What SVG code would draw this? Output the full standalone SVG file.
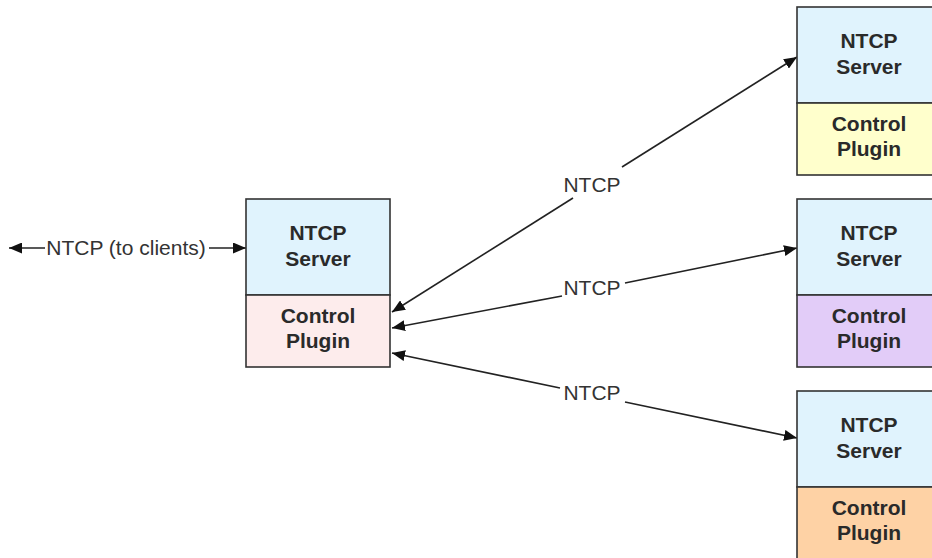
<svg xmlns="http://www.w3.org/2000/svg" width="932" height="558" viewBox="0 0 932 558">
<style>
.box{stroke:#333;stroke-width:1.6}
.srv{fill:#e0f3fd}
.t{font-family:"Liberation Sans",Arial,sans-serif;font-size:21px;font-weight:bold;fill:#2a2a2a;text-anchor:middle}
.lbl{font-family:"Liberation Sans",Arial,sans-serif;font-size:21px;fill:#333;text-anchor:middle}
.c{stroke:#222;stroke-width:1.6;fill:none}
</style>
<defs>
<marker id="ah" viewBox="0 0 13 11" refX="13" refY="5.5" markerWidth="13" markerHeight="11" markerUnits="userSpaceOnUse" orient="auto-start-reverse">
<path d="M0,0 L13,5.5 L0,11 z" fill="#111"/>
</marker>
</defs>
<rect width="932" height="558" fill="#fff"/>
<g id="connectors">
<line class="c" x1="45" y1="248" x2="9" y2="248" marker-end="url(#ah)"/>
<line class="c" x1="209" y1="248" x2="246" y2="248" marker-end="url(#ah)"/>
<text class="lbl" x="126" y="255">NTCP (to clients)</text>
<line class="c" x1="573" y1="198" x2="392" y2="312" marker-end="url(#ah)"/>
<line class="c" x1="622" y1="167" x2="797" y2="57" marker-end="url(#ah)"/>
<text class="lbl" x="592" y="192">NTCP</text>
<line class="c" x1="562" y1="296" x2="392" y2="328" marker-end="url(#ah)"/>
<line class="c" x1="625" y1="283" x2="797" y2="248" marker-end="url(#ah)"/>
<text class="lbl" x="592" y="295">NTCP</text>
<line class="c" x1="560" y1="388" x2="392" y2="353" marker-end="url(#ah)"/>
<line class="c" x1="625" y1="402" x2="797" y2="438" marker-end="url(#ah)"/>
<text class="lbl" x="592" y="400">NTCP</text>
</g>
<g id="node-center">
<rect class="box srv" x="246" y="199" width="144" height="96"/>
<rect class="box" x="246" y="295" width="144" height="72" fill="#fdecec"/>
<text class="t" x="318" y="240">NTCP</text>
<text class="t" x="318" y="266">Server</text>
<text class="t" x="318" y="323">Control</text>
<text class="t" x="318" y="348">Plugin</text>
</g>
<g id="node-top">
<rect class="box srv" x="797" y="7" width="144" height="96"/>
<rect class="box" x="797" y="103" width="144" height="72" fill="#ffffcc"/>
<text class="t" x="869" y="48">NTCP</text>
<text class="t" x="869" y="74">Server</text>
<text class="t" x="869" y="131">Control</text>
<text class="t" x="869" y="156">Plugin</text>
</g>
<g id="node-middle">
<rect class="box srv" x="797" y="199" width="144" height="96"/>
<rect class="box" x="797" y="295" width="144" height="72" fill="#e2ccf8"/>
<text class="t" x="869" y="240">NTCP</text>
<text class="t" x="869" y="266">Server</text>
<text class="t" x="869" y="323">Control</text>
<text class="t" x="869" y="348">Plugin</text>
</g>
<g id="node-bottom">
<rect class="box srv" x="797" y="391" width="144" height="96"/>
<rect class="box" x="797" y="487" width="144" height="80" fill="#fed2a5"/>
<text class="t" x="869" y="432">NTCP</text>
<text class="t" x="869" y="458">Server</text>
<text class="t" x="869" y="515">Control</text>
<text class="t" x="869" y="540">Plugin</text>
</g>
</svg>
